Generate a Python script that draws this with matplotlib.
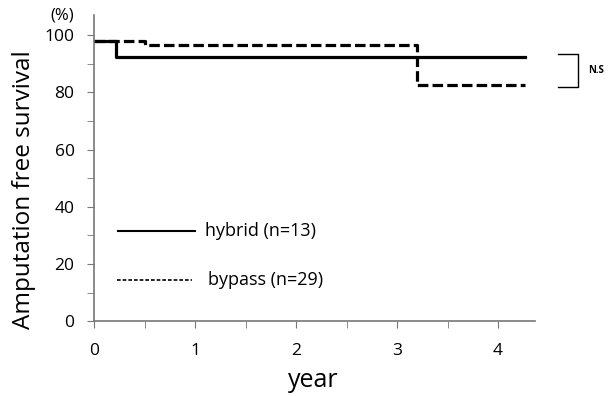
import matplotlib
matplotlib.use("Agg")
import matplotlib.pyplot as plt
from matplotlib.lines import Line2D

plt.rcParams["font.family"] = ["Open Sans", "DejaVu Sans"]

# Kaplan-Meier style step data
hybrid_years = [0, 0.22, 4.27]
hybrid_surv = [98, 92.3, 92.3]
bypass_years = [0, 0.5, 3.2, 4.27]
bypass_surv = [98, 96.4, 82.5, 82.5]

x_ticks = [0, 1, 2, 3, 4]
y_ticks = [0, 20, 40, 60, 80, 100]
legend_labels = ["hybrid (n=13)", "bypass (n=29)"]

fig = plt.figure(figsize=(6.08, 3.96), dpi=100)
ax = fig.add_axes([0.1546, 0.189, 0.726, 0.773])

ax.step(hybrid_years, hybrid_surv, where="post", color="black", lw=2.3)
ax.step(bypass_years, bypass_surv, where="post", color="black", lw=2.3,
        linestyle=(0, (3.3, 1.3)))

ax.set_xticks(x_ticks)
ax.set_xticks([v + 0.5 for v in x_ticks[:-1]], minor=True)
ax.set_yticks(y_ticks)
ax.set_yticks([v + 10 for v in y_ticks[:-1]], minor=True)
ax.set_xlim(0, 4.37)
ax.set_ylim(0, 107)
ax.tick_params(which="both", direction="out", length=5, color="#777777",
               labelsize=12.5)
ax.tick_params(axis="x", pad=11)
ax.tick_params(axis="y", pad=9)

for s in ["top", "right"]:
    ax.spines[s].set_visible(False)
for s in ["left", "bottom"]:
    ax.spines[s].set_color("#777777")
    ax.spines[s].set_linewidth(1.2)

fig.text(0.516, 0.040, "year", fontsize=18, ha="center", va="center")
fig.text(0.040, 0.52, "Amputation free survival", rotation=90,
         fontsize=17.5, ha="center", va="center")
fig.text(0.103, 0.962, "(%)", fontsize=12, ha="center", va="center")

# hand-drawn legend
ax.add_line(Line2D([0.054, 0.229], [0.294, 0.294], transform=ax.transAxes,
                   color="black", lw=1.5))
ax.text(0.252, 0.294, legend_labels[0], transform=ax.transAxes,
        fontsize=13, va="center")
ax.add_line(Line2D([0.052, 0.222], [0.134, 0.134], transform=ax.transAxes,
                   color="black", lw=1.2, linestyle=(0, (2.2, 1.2))))
ax.text(0.258, 0.134, legend_labels[1], transform=ax.transAxes,
        fontsize=13, va="center")

# N.S bracket
fig.add_artist(Line2D([0.918, 0.951, 0.951, 0.918], [0.864, 0.864, 0.780, 0.780],
                      color="black", lw=1.0))
fig.text(0.967, 0.822, "N.S", fontsize=7, fontweight="bold", va="center")

fig.savefig("out.png", dpi=100)
